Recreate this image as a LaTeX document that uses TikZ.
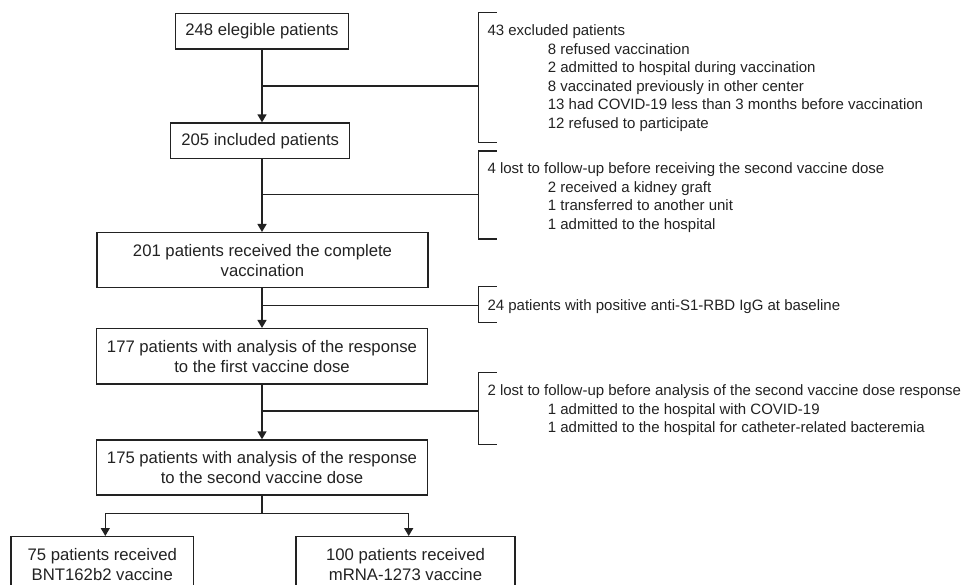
\documentclass[tikz,border=0pt]{standalone}
\usepackage{fontspec}
\setmainfont{Liberation Sans}
\usetikzlibrary{arrows.meta}
\definecolor{ink}{HTML}{222222}
\begin{document}
\begin{tikzpicture}[x=1pt,y=-1pt,
  box/.style={draw=ink, line width=1.4pt, text=ink, align=center, inner sep=0pt,
    font=\fontsize{16.7}{20}\selectfont},
  side/.style={text=ink, anchor=base west, inner sep=0pt, font=\fontsize{15}{18}\selectfont},
  conn/.style={draw=ink, line width=1.4pt},
  arr/.style={conn, -{Triangle[width=9pt,length=8pt]}}]
\useasboundingbox (0,0) rectangle (965,585);
\clip (0,0) rectangle (965,585);

% main boxes
\node[box, minimum width=172.6pt, minimum height=35.3pt] (b1) at (262,31.3) {248 elegible patients};
\node[box, minimum width=179pt, minimum height=35.3pt] (b2) at (260.2,140.7) {205 included patients};
\node[box, minimum width=331pt, minimum height=55pt] (b3) at (262.5,260.2) {201 patients received the complete\\vaccination};
\node[box, minimum width=331.4pt, minimum height=55.3pt] (b4) at (262,356.3) {177 patients with analysis of the response\\to the first vaccine dose};
\node[box, minimum width=331.4pt, minimum height=55pt] (b5) at (262,467.5) {175 patients with analysis of the response\\to the second vaccine dose};
\node[box, minimum width=182.7pt, minimum height=56.6pt, anchor=north] (b6) at (102.3,536) {75 patients received\\BNT162b2 vaccine};
\node[box, minimum width=219pt, minimum height=56.6pt, anchor=north] (b7) at (405.5,536) {100 patients received\\mRNA-1273 vaccine};

% main arrows
\draw[arr] (b1.south) -- (b1.south |- b2.north);
\draw[arr] (b1.south |- b2.south) -- (b1.south |- b3.north);
\draw[arr] (b1.south |- b3.south) -- (b1.south |- b4.north);
\draw[arr] (b4.south) -- (b4.south |- b5.north);

% side branches
\coordinate (j1) at (262,86);
\coordinate (k1) at (478.3,86);
\coordinate (j2) at (262,194.3);
\coordinate (k2) at (478.3,194.3);
\coordinate (j3) at (262,305.7);
\coordinate (k3) at (478.3,305.7);
\coordinate (j4) at (262,411);
\coordinate (k4) at (478.3,411);
\draw[conn] (j1) -- (k1);
\draw[conn] (j2) -- (k2);
\draw[conn] (j3) -- (k3);
\draw[conn] (j4) -- (k4);

% brackets
\draw[conn] (496.7,12.7) -- (478.3,12.7) -- (478.3,142.3) -- (496.7,142.3);
\draw[conn] (496.7,151) -- (478.3,151) -- (478.3,239) -- (496.7,239);
\draw[conn] (496.7,286.7) -- (478.3,286.7) -- (478.3,322.3) -- (496.7,322.3);
\draw[conn] (496.7,372.3) -- (478.3,372.3) -- (478.3,444.3) -- (496.7,444.3);

% side texts
\node[side] (e0) at (487.3,36) {43 excluded patients};
\node[side] (e1) at (547.7,54.5) {8 refused vaccination};
\node[side] (e2) at (547.7,73) {2 admitted to hospital during vaccination};
\node[side] (e3) at (547.7,91.5) {8 vaccinated previously in other center};
\node[side] (e4) at (547.7,110) {13 had COVID-19 less than 3 months before vaccination};
\node[side] (e5) at (547.7,128.5) {12 refused to participate};

\node[side] (f0) at (487.3,174) {4 lost to follow-up before receiving the second vaccine dose};
\node[side] (f1) at (547.7,192.5) {2 received a kidney graft};
\node[side] (f2) at (547.7,211) {1 transferred to another unit};
\node[side] (f3) at (547.7,229.3) {1 admitted to the hospital};

\node[side] (g0) at (487.3,310) {24 patients with positive anti-S1-RBD IgG at baseline};

\node[side] (h0) at (487.3,395.7) {2 lost to follow-up before analysis of the second vaccine dose response};
\node[side] (h1) at (547.7,414) {1 admitted to the hospital with COVID-19};
\node[side] (h2) at (547.7,432.7) {1 admitted to the hospital for catheter-related bacteremia};

% bottom split
\coordinate (s5) at (262,513.3);
\coordinate (t6) at (105.3,536);
\coordinate (t7) at (408.7,536);
\draw[conn] (b5.south) -- (s5);
\draw[arr] (s5) -| (t6);
\draw[arr] (s5) -| (t7);
\end{tikzpicture}
\end{document}
